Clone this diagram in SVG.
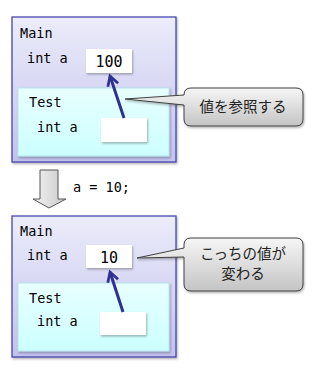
<svg xmlns="http://www.w3.org/2000/svg" width="330" height="370" viewBox="0 0 330 370">
<defs>
<linearGradient id="gMain" x1="0" y1="0" x2="0" y2="1"><stop offset="0" stop-color="#ececfa"/><stop offset="1" stop-color="#c2c2ee"/></linearGradient>
<linearGradient id="gTest" x1="0" y1="0" x2="0" y2="1"><stop offset="0" stop-color="#e8ffff"/><stop offset="1" stop-color="#ccffff"/></linearGradient>
<linearGradient id="gCall" x1="0" y1="0" x2="0" y2="1"><stop offset="0" stop-color="#f6f6f6"/><stop offset="1" stop-color="#c4c4c4"/></linearGradient>
<linearGradient id="gBig" x1="0" y1="0" x2="1" y2="0"><stop offset="0" stop-color="#f4f4f4"/><stop offset="1" stop-color="#c8c8c8"/></linearGradient>
<filter id="sh" x="-10%" y="-10%" width="130%" height="130%"><feDropShadow dx="1" dy="1.5" stdDeviation="1" flood-color="#000" flood-opacity="0.3"/></filter>
<marker id="ah" viewBox="0 0 10 10" refX="8" refY="5" markerWidth="4.5" markerHeight="4.5" orient="auto"><path d="M1,1 L8,5 L1,9" fill="none" stroke="#2e3192" stroke-width="2" stroke-linejoin="miter"/></marker>
</defs>
<style>
.main{fill:url(#gMain);stroke:#3a3aa8;stroke-width:1.2;filter:url(#sh)}
.test{fill:url(#gTest);stroke:#b8e4ec;stroke-width:1;filter:url(#sh)}
.val{fill:#fff;filter:url(#sh)}
.call{fill:url(#gCall);stroke:#404040;stroke-width:1;filter:url(#sh)}
.t{font-family:"DejaVu Sans Mono","Noto Sans CJK JP",monospace;font-size:13.5px;fill:#000}
.v{font-family:"DejaVu Sans Mono",monospace;font-size:15px;fill:#000}
.j{font-family:"Noto Sans CJK JP",sans-serif;font-size:14.5px;fill:#222}
.ref{stroke:#2e3192;stroke-width:3;fill:none;marker-end:url(#ah)}
</style>

<g id="main1">
<rect class="main" x="12" y="17" width="164" height="145"/>
<text class="t" x="20" y="38">Main</text>
<text class="t" x="27" y="63">int a</text>
</g>
<g id="val1">
<rect class="val" x="86" y="49" width="46" height="24"/>
<text class="v" x="109" y="67" text-anchor="middle">100</text>
</g>
<g id="test1">
<rect class="test" x="18" y="88" width="151" height="68"/>
<text class="t" x="29" y="107">Test</text>
<text class="t" x="37" y="132">int a</text>
<rect class="val" x="101" y="118" width="46" height="24"/>
</g>
<g id="callout1">
<path class="call" d="M191,88 H296 Q303,88 303,95 V119 Q303,126 296,126 H191 Q184,126 184,119 V105 L125,99 L184,95 V95 Q184,88 191,88 Z"/>
<text class="j" x="243" y="112" text-anchor="middle">値を参照する</text>
</g>

<g id="step">
<path d="M40,170 H58 V199 H66 L49,208 L33,199 H40 Z" fill="url(#gBig)" stroke="#555" stroke-width="1"/>
<text class="t" x="73" y="192">a = 10;</text>
</g>

<g id="main2">
<rect class="main" x="12" y="216" width="164" height="141"/>
<text class="t" x="20" y="236">Main</text>
<text class="t" x="27" y="260">int a</text>
</g>
<g id="val2">
<rect class="val" x="86" y="245" width="46" height="23"/>
<text class="v" x="109" y="263" text-anchor="middle">10</text>
</g>
<g id="test2">
<rect class="test" x="18" y="283" width="151" height="68"/>
<text class="t" x="29" y="303">Test</text>
<text class="t" x="37" y="326">int a</text>
<rect class="val" x="100" y="312" width="46" height="23"/>
</g>
<g id="callout2">
<path class="call" d="M191,238 H296 Q303,238 303,245 V284 Q303,291 296,291 H191 Q184,291 184,284 V257 L137,258 L184,248 V245 Q184,238 191,238 Z"/>
<text class="j" x="243" y="259" text-anchor="middle">こっちの値が</text>
<text class="j" x="243" y="279" text-anchor="middle">変わる</text>
</g>

<g id="connectors">
<line class="ref" x1="124" y1="118" x2="110" y2="76"/>
<line class="ref" x1="123" y1="312" x2="110" y2="272"/>
</g>
</svg>
